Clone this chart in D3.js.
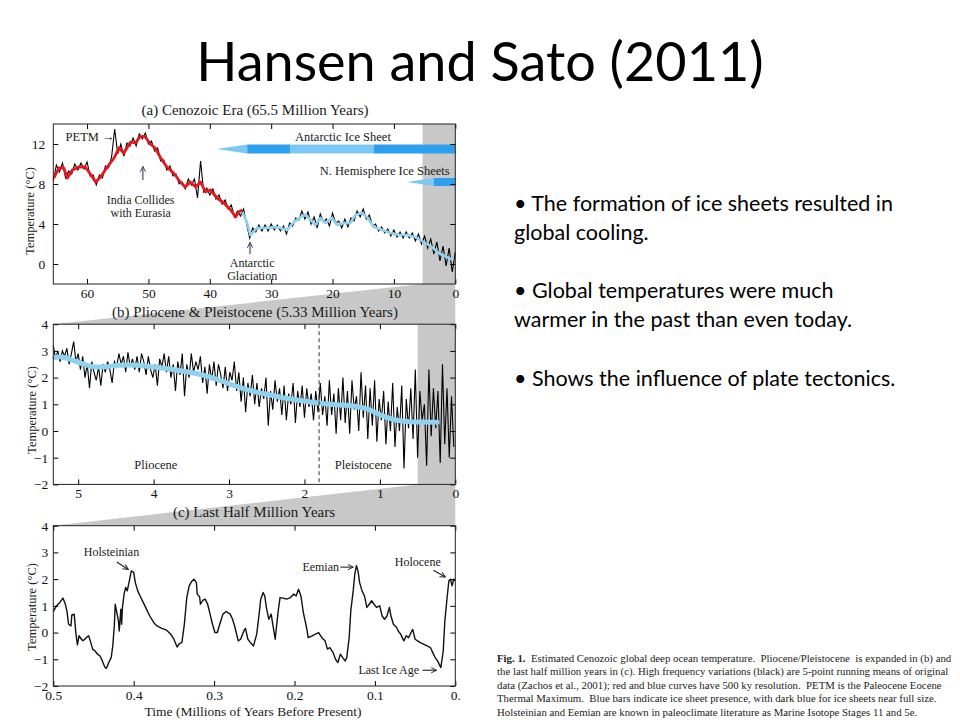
<!DOCTYPE html>
<html>
<head>
<meta charset="utf-8">
<script src="https://cdn.jsdelivr.net/npm/d3@7"></script>
<style>
body{margin:0;background:#fff;}
svg text{font-family:"Liberation Serif","DejaVu Serif",serif;}
svg text.slide{font-family:Lato,"Open Sans",sans-serif;}
</style>
</head>
<body>
<svg id="chart" width="960" height="720"></svg>
<script>
// ---- panel (a) Cenozoic: [Myr before present, temperature C]
var redCurve = [[65.4,8.6],[64.6,9.6],[63.8,9.6],[63.2,8.6],[62.4,9.4],[61.3,9.7],[60.3,9.7],[59.7,9.2],[58.6,8.2],[57.8,8.7],[56.7,9.7],[55.6,10.6],[54.8,11.6],[54.0,11.1],[52.9,12.2],[52.1,12.1],[51.3,12.8],[50.5,12.7],[49.7,12.0],[48.9,11.6],[48.0,10.6],[47.0,9.7],[45.9,9.1],[44.8,8.2],[44.0,7.7],[43.2,8.2],[42.3,7.7],[41.5,8.2],[40.7,7.2],[39.9,7.4],[38.8,6.6],[37.7,6.1],[36.6,5.4],[35.8,4.7],[35.3,5.2],[34.7,5.4]];
var blueCurve = [[34.7,5.2],[33.9,4.1],[33.4,2.9],[32.3,3.6],[30.7,3.6],[29.0,3.7],[27.4,3.4],[26.3,4.2],[25.2,4.7],[24.4,4.9],[23.6,4.4],[22.8,3.9],[22.0,4.6],[21.2,4.1],[20.1,4.6],[19.3,3.9],[18.2,4.1],[17.1,4.1],[16.3,4.9],[15.2,5.1],[14.4,4.7],[13.3,3.7],[11.9,3.4],[10.6,3.1],[9.2,2.9],[7.9,2.9],[6.5,2.7],[5.2,2.2],[3.8,1.7],[2.7,1.1],[1.4,0.7],[0.3,0.4]];
// black 5-point means, sampled every 0.5 Myr from 65.5 Myr
var cenozoicStart = 65.5, cenozoicStep = 0.5;
var cenozoicBlack = [8.3,9.9,9.2,10.1,8.6,9.3,9.0,10.0,9.4,10.1,9.5,10.2,8.8,8.9,7.9,8.9,8.6,9.8,9.6,10.7,
  13.5,11.0,12.0,10.8,12.1,11.8,12.6,11.8,13.0,12.5,13.1,12.0,12.3,11.3,11.6,10.3,10.4,9.4,9.8,8.8,
  9.0,8.0,8.2,7.5,8.5,7.9,8.5,6.6,10.3,7.2,7.6,6.9,7.5,6.5,6.9,6.0,6.4,5.5,5.9,4.7,
  5.3,4.8,5.5,4.0,2.6,3.6,3.2,3.9,3.3,3.9,3.3,4.0,3.4,3.9,3.3,3.8,3.0,4.1,3.8,4.6,
  4.4,5.3,4.5,5.2,4.0,4.7,3.6,5.0,4.2,4.5,3.8,5.1,4.1,4.3,3.6,4.5,3.7,4.6,4.3,5.3,
  4.7,5.5,4.5,4.9,3.8,4.0,3.3,3.7,3.1,3.5,2.8,3.4,2.7,3.2,2.6,3.2,2.6,3.1,2.3,3.0,
  2.0,2.8,1.6,2.5,1.0,2.2,0.3,1.8,-0.2,1.6,-0.8,1.2];
// ice sheet bars [from Myr, to Myr, size]
var antarcticIce = [[38.9,33.9,"wedge"],[33.9,26.9,"full"],[26.9,13.3,"partial"],[13.3,0,"full"]];
var northernIce = [[7.9,3.5,"wedge"],[3.5,0,"full"]];

// ---- panel (b) Pliocene & Pleistocene
var plioSmooth = [[5.31,2.75],[5.24,2.8],[5.11,2.7],[4.98,2.55],[4.82,2.4],[4.67,2.38],[4.45,2.48],[4.23,2.48],[4.0,2.4],[3.78,2.33],[3.56,2.22],[3.34,2.1],[3.12,1.9],[2.9,1.66],[2.68,1.48],[2.46,1.35],[2.23,1.22],[2.01,1.12],[1.79,1.04],[1.57,0.98],[1.35,0.95],[1.17,0.85],[1.0,0.6],[0.82,0.41],[0.64,0.35],[0.46,0.33],[0.24,0.33]];
var plioStart = 5.33, plioStep = 0.03;
var plioBlack = [3.2,2.7,3.0,2.6,3.0,2.8,3.1,2.5,2.9,3.35,
  2.6,2.9,2.3,2.8,2.0,2.5,1.6,2.6,2.2,1.9,
  2.4,1.7,2.5,2.2,2.6,2.3,1.8,2.6,2.4,2.9,
  2.5,2.8,2.2,2.95,2.4,2.7,2.3,2.8,2.2,2.9,
  2.6,2.1,2.8,2.3,2.0,2.5,1.7,2.7,2.4,2.9,
  2.2,2.8,2.0,2.5,1.5,2.6,2.1,2.9,1.3,2.5,
  2.0,2.9,2.2,2.6,2.3,2.8,1.8,2.4,1.4,2.5,
  1.9,2.6,1.7,2.5,2.1,1.6,2.4,1.5,2.2,1.9,
  2.6,1.5,2.2,1.1,2.0,0.7,1.8,1.3,2.1,1.0,
  1.8,0.9,1.6,1.2,2.0,0.2,1.5,0.8,1.9,1.1,
  1.6,0.6,1.7,0.4,1.4,1.0,1.8,0.3,1.5,0.9,
  1.7,0.5,1.6,0.9,1.4,0.4,1.5,0.7,1.8,0.6,
  1.3,0.2,1.9,0.6,1.4,-0.1,1.6,0.4,2.0,0.3,
  1.5,-0.1,1.9,0.8,1.3,0.0,2.2,0.5,1.7,-0.3,
  1.6,0.2,1.9,-0.4,1.2,0.4,1.5,-0.5,1.1,0.0,
  1.8,-0.6,0.9,0.0,1.7,-1.4,1.2,0.1,1.6,-0.3,
  2.3,-1.0,1.5,0.4,1.0,-1.3,2.3,-0.2,1.6,0.1,
  1.5,-1.2,2.5,-0.5,1.6,-1.0,1.3,-0.6];
var plioBoundary = 1.806;

// ---- panel (c) last half million years: [ky before present, temperature C]
var lastHalf = [[500,0.79],[496,1.0],[492,1.12],[488,1.29],[485,1.06],[483,0.79],[481,0.31],[478,0.25],[477,0.66],[474,0.69],[472,0.0],[470,-0.46],[468,-0.12],[465,-0.25],[463,-0.31],[459,-0.19],[456,-0.12],[454,-0.31],[451,-0.62],[448,-0.69],[445,-0.81],[442,-0.87],[439,-1.06],[436,-1.29],[434,-1.34],[431,-1.12],[428,-0.94],[426,-0.5],[424,0.31],[423,1.06],[421,0.75],[419,0.44],[418,0.06],[416,0.87],[415,0.31],[414,0.94],[412,1.44],[410,1.69],[408,1.56],[405,2.0],[403,2.31],[400,2.25],[398,1.87],[395,1.56],[392,1.37],[388,1.12],[384,0.87],[380,0.62],[375,0.37],[371,0.25],[365,0.16],[359,0.09],[354,-0.06],[350,-0.25],[346,-0.54],[343,-0.41],[340,-0.37],[337,0.31],[334,1.31],[331,1.75],[328,1.91],[325,2.0],[322,1.87],[321,1.44],[318,1.34],[317,1.06],[314,1.21],[311,1.25],[308,1.06],[305,0.69],[302,0.31],[299,0.0],[296,0.0],[293,0.31],[289,0.69],[285,0.79],[280,0.69],[277,0.5],[274,0.19],[270,-0.31],[267,-0.25],[263,0.06],[261,0.16],[258,-0.25],[255,-0.37],[251,-0.5],[247,-0.06],[244,0.69],[242,1.25],[239,1.5],[237,1.37],[235,0.94],[232,0.5],[229,0.69],[227,0.31],[224,-0.25],[223,0.06],[220,0.87],[218,1.31],[214,1.29],[210,1.25],[205,1.31],[201,1.44],[198,1.37],[195,1.62],[192,1.37],[189,0.75],[185,0.19],[183,-0.19],[178,-0.12],[174,-0.06],[170,0.0],[166,-0.19],[162,-0.31],[159,-0.62],[156,-0.56],[152,-0.75],[149,-1.0],[146,-1.12],[143,-0.81],[140,-0.94],[137,-1.06],[135,-0.94],[132,-0.19],[130,0.81],[127,1.56],[125,2.19],[123,2.5],[121,2.31],[119,1.87],[116,1.56],[113,1.37],[110,0.94],[107,1.06],[104,1.19],[101,1.06],[98,0.94],[94,1.0],[91,0.62],[88,0.5],[85,0.62],[82,0.94],[80,0.62],[77,0.31],[73,0.19],[71,0.06],[68,-0.06],[64,-0.31],[61,-0.12],[58,-0.19],[55,0.0],[53,0.12],[50,-0.25],[47,-0.31],[44,-0.37],[39,-0.44],[35,-0.5],[31,-0.56],[28,-0.75],[25,-0.94],[22,-1.06],[20,-1.19],[18,-1.31],[15,-0.69],[13,0.44],[10,1.37],[8,1.94],[6,2.0],[4,1.75],[2,2.0],[0,1.94]];

// ---- tick labels
var ticksA = {x:[60,50,40,30,20,10,0], y:[0,4,8,12]};
var ticksB = {x:[5,4,3,2,1,0], y:[-2,-1,0,1,2,3,4]};
var ticksC = {x:[500,400,300,200,100,0], y:[-2,-1,0,1,2,3,4]};
var ticksCLabels = ["0.5","0.4","0.3","0.2","0.1","0."];

var bullets = [
  ["\u2022 The formation of ice sheets resulted in", "global cooling."],
  ["\u2022 Global temperatures were much", "warmer in the past than even today."],
  ["\u2022 Shows the influence of plate tectonics."]
];
var caption = [
  "  Estimated Cenozoic global deep ocean temperature.  Pliocene/Pleistocene  is expanded in (b) and",
  "the last half million years in (c). High frequency variations (black) are 5-point running means of original",
  "data (Zachos et al., 2001); red and blue curves have 500 ky resolution.  PETM is the Paleocene Eocene",
  "Thermal Maximum.  Blue bars indicate ice sheet presence, with dark blue for ice sheets near full size.",
  "Holsteinian and Eemian are known in paleoclimate literature as Marine Isotope Stages 11 and 5e."
];

var svg = d3.select("#chart");
var L = 53.3, R = 455.3;
var GRAY = "#c8c8c8", LIGHTBLUE = "#8ed2ef", BARLIGHT = "#7cc7f3", BARDARK = "#2c9fef";

var xa = d3.scaleLinear().domain([65.5, 0]).range([L, R]),
    ya = d3.scaleLinear().domain([-2, 14]).range([284, 124]);
var xb = d3.scaleLinear().domain([5.33, 0]).range([L, R]),
    yb = d3.scaleLinear().domain([-2, 4]).range([484.4, 324.2]);
var xc = d3.scaleLinear().domain([500, 0]).range([L, R]),
    yc = d3.scaleLinear().domain([-2, 4]).range([686, 525.7]);

var defs = svg.append("defs");
defs.append("marker").attr("id","arr").attr("viewBox","0 0 8 8").attr("refX",7).attr("refY",4)
  .attr("markerWidth",7).attr("markerHeight",7).attr("markerUnits","userSpaceOnUse").attr("orient","auto")
  .append("path").attr("d","M1,1 L7,4 L1,7").attr("fill","none").attr("stroke","context-stroke").attr("stroke-width",1.1);

// zoom trapezoids between panels
svg.append("polygon").attr("fill", GRAY)
  .attr("points", [[xa(5.33),284],[R,284],[R,324.2],[L,324.2]].join(" "));
svg.append("polygon").attr("fill", GRAY)
  .attr("points", [[xb(0.5),484.4],[R,484.4],[R,525.7],[L,525.7]].join(" "));

// shaded expanded intervals
svg.append("rect").attr("x", xa(5.33)).attr("y",124).attr("width", R - xa(5.33)).attr("height",160).attr("fill",GRAY);
svg.append("rect").attr("x", xb(0.5)).attr("y",324.2).attr("width", R - xb(0.5)).attr("height",160.2).attr("fill",GRAY);

// ---- panel (a) lines
var lineA = d3.line().x(function(d){ return xa(d[0]); }).y(function(d){ return ya(d[1]); });
svg.append("path")
  .datum(cenozoicBlack.map(function(v,i){ return [cenozoicStart - i*cenozoicStep, v]; }))
  .attr("fill","none").attr("stroke","#000").attr("stroke-width",1.1).attr("d", lineA);
svg.append("path").datum(redCurve).attr("fill","none").attr("stroke","#e8161b")
  .attr("stroke-width",2.8).attr("stroke-linejoin","round").attr("d", lineA);
svg.append("path").datum(blueCurve).attr("fill","none").attr("stroke",LIGHTBLUE)
  .attr("stroke-width",2.6).attr("stroke-linejoin","round").attr("d", lineA);

// ice sheet bars
function iceBars(bars, tTop, tBot){
  var y0 = ya(tTop), y1 = ya(tBot), ym = (y0 + y1) / 2;
  bars.forEach(function(b){
    if(b[2] == "wedge"){
      svg.append("polygon").attr("fill", BARLIGHT)
        .attr("points", [[xa(b[0]), ym], [xa(b[1]), y0], [xa(b[1]), y1]].join(" "));
    } else {
      svg.append("rect").attr("x", xa(b[0])).attr("y", y0)
        .attr("width", xa(b[1]) - xa(b[0])).attr("height", y1 - y0)
        .attr("fill", b[2] == "full" ? BARDARK : BARLIGHT);
    }
  });
}
iceBars(antarcticIce, 11.95, 11.05);
iceBars(northernIce, 8.6, 7.8);

// ---- panel (b) lines
var lineB = d3.line().x(function(d){ return xb(d[0]); }).y(function(d){ return yb(d[1]); });
svg.append("path")
  .datum(plioBlack.map(function(v,i){ return [plioStart - i*plioStep, v]; }))
  .attr("fill","none").attr("stroke","#000").attr("stroke-width",1.1).attr("d", lineB);
svg.append("path").datum(plioSmooth).attr("fill","none").attr("stroke",LIGHTBLUE)
  .attr("stroke-width",5).attr("stroke-linecap","round").attr("d", lineB.curve(d3.curveBasis));
svg.append("line").attr("x1", xb(plioBoundary)).attr("x2", xb(plioBoundary))
  .attr("y1", 324.2).attr("y2", 484.4).attr("stroke","#333").attr("stroke-dasharray","4,3");

// ---- panel (c) line
var lineC = d3.line().x(function(d){ return xc(d[0]); }).y(function(d){ return yc(d[1]); });
svg.append("path").datum(lastHalf).attr("fill","none").attr("stroke","#111")
  .attr("stroke-width",1.4).attr("stroke-linejoin","round").attr("d", lineC);

// ---- axes and frames
var fmt = d3.format("d");
function frame(x, y, t, pad, labels){
  var top = y.range()[1], bot = y.range()[0];
  function style(g){
    g.select(".domain").remove();
    g.attr("font-family","Liberation Serif, serif").attr("font-size",13.5);
    g.selectAll("text").attr("fill","#111");
  }
  svg.append("g").attr("transform","translate(0,"+bot+")")
    .call(d3.axisBottom(x).tickValues(t.x).tickSize(-5).tickPadding(4)
      .tickFormat(function(d,i){ return labels ? labels[i] : fmt(d); })).call(style);
  svg.append("g").attr("transform","translate(0,"+top+")")
    .call(d3.axisTop(x).tickValues(t.x).tickSize(-5).tickFormat("")).call(style);
  svg.append("g").attr("transform","translate("+L+",0)")
    .call(d3.axisLeft(y).tickValues(t.y).tickSize(-5).tickPadding(pad).tickFormat(fmt)).call(style);
  svg.append("g").attr("transform","translate("+R+",0)")
    .call(d3.axisRight(y).tickValues(t.y).tickSize(-5).tickFormat("")).call(style);
  svg.append("rect").attr("x",L).attr("y",top).attr("width",R-L).attr("height",bot-top)
    .attr("fill","none").attr("stroke","#222").attr("stroke-width",1);
}
frame(xa, ya, ticksA, 8);
frame(xb, yb, ticksB, 5);
frame(xc, yc, ticksC, 5, ticksCLabels);

// ---- text helpers
function txt(x, y, s, size, anchor, cls){
  return svg.append("text").attr("x",x).attr("y",y).attr("font-size",size)
    .attr("text-anchor",anchor || "middle").attr("class",cls || null)
    .attr("fill","#1a1a1a").style("white-space","pre").text(s);
}
function arrow(x1,y1,x2,y2,color){
  svg.append("line").attr("x1",x1).attr("y1",y1).attr("x2",x2).attr("y2",y2)
    .attr("stroke",color || "#222").attr("stroke-width",1.1).attr("marker-end","url(#arr)");
}

// panel titles
txt(255, 115, "(a) Cenozoic Era (65.5 Million Years)", 15);
txt(255, 316.5, "(b) Pliocene & Pleistocene (5.33 Million Years)", 15);
txt(254, 516.5, "(c) Last Half Million Years", 15);

// y titles
[[30, 211],[32, 410],[32, 607]].forEach(function(p){
  svg.append("text").attr("transform","translate("+p[0]+","+p[1]+") rotate(-90)")
    .attr("text-anchor","middle").attr("dy","0.35em").attr("font-size",12.5).attr("fill","#1a1a1a")
    .text("Temperature (\u00b0C)");
});
txt(253, 716, "Time (Millions of Years Before Present)", 13.5);

// panel (a) annotations
txt(xa(63.5), ya(12.73) + 4.5, "PETM \u2192", 12.5, "start");
arrow(xa(50.9), ya(8.4), xa(50.9), ya(9.75), "#4a3560");
txt(xa(51.26), ya(6.45) + 4.5, "India Collides", 12);
txt(xa(51.26), ya(5.2) + 4.5, "with Eurasia", 12);
arrow(xa(33.45), ya(1.0), xa(33.45), ya(2.15), "#2a3a5a");
txt(xa(33.1), ya(0.12) + 4.5, "Antarctic", 12);
txt(xa(33.1), ya(-1.13) + 4.5, "Glaciation", 12);
txt(xa(18.3), ya(12.73) + 4.5, "Antarctic Ice Sheet", 12.5);
txt(xa(11.5), ya(9.4) + 4.5, "N. Hemisphere Ice Sheets", 12.5);

// panel (b) annotations
txt(xb(3.97), yb(-1.27) + 4.5, "Pliocene", 12.5);
txt(xb(1.22), yb(-1.27) + 4.5, "Pleistocene", 12.5);

// panel (c) annotations
txt(xc(427.6), yc(3.01) + 4, "Holsteinian", 12);
arrow(xc(421), yc(2.64), xc(406.7), yc(2.36));
txt(xc(167.4), yc(2.45) + 4, "Eemian", 12);
arrow(xc(143), yc(2.45), xc(127), yc(2.45));
txt(xc(46.7), yc(2.64) + 4, "Holocene", 12);
arrow(xc(27.3), yc(2.33), xc(12.4), yc(2.08));
txt(xc(82.8), yc(-1.41) + 4, "Last Ice Age", 12);
arrow(xc(40.8), yc(-1.41), xc(23.4), yc(-1.41));

// ---- slide text
txt(480, 81, "Hansen and Sato (2011)", 54, "middle", "slide").attr("fill","#000");
var by = [[211, 240],[298, 327],[386]];
bullets.forEach(function(lines, i){
  lines.forEach(function(s, j){
    txt(514, by[i][j], s, 21.5, "start", "slide").attr("fill","#000");
  });
});

// figure caption
caption.forEach(function(s, i){
  var t = txt(497, 661.5 + i*13.6, "", 10.8, "start").attr("fill","#222");
  if(i == 0) t.append("tspan").attr("font-weight","bold").text("Fig. 1.");
  t.append("tspan").text(s);
});
</script>
</body>
</html>
